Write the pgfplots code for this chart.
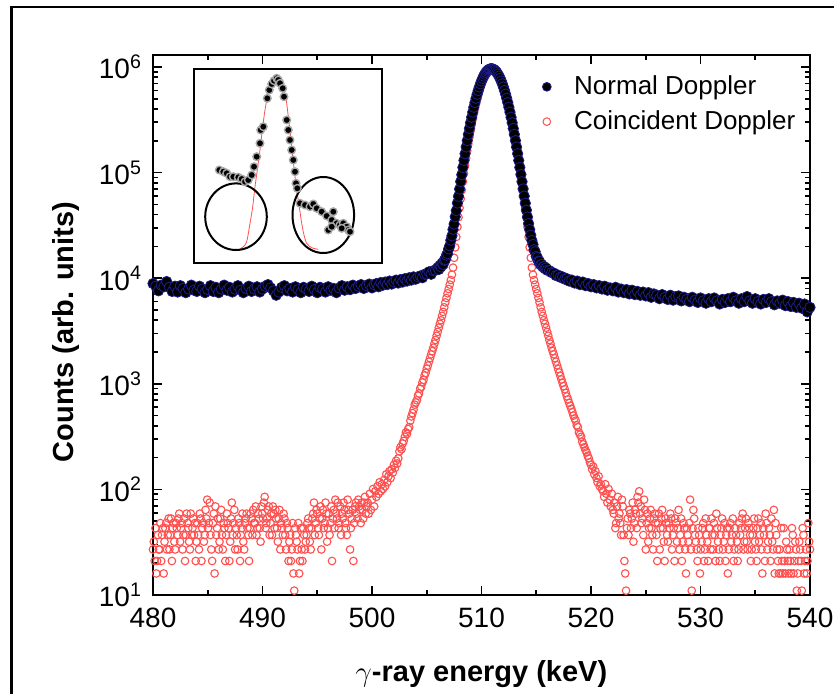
\documentclass[border=0pt]{standalone}
\usepackage{pgfplots}
\pgfplotsset{compat=1.18}
\usepackage{fontspec}
\setmainfont{Liberation Sans}
\definecolor{redpt}{RGB}{255,80,80}
\definecolor{bluedge}{RGB}{30,30,140}

\begin{document}
\begin{tikzpicture}
\useasboundingbox (0,0) rectangle (417pt,346.5pt);
\draw[line width=1.4pt] (5.6pt,-2pt) -- (5.6pt,343pt) -- (420pt,343pt);
\begin{axis}[
  at={(76.5pt,49pt)}, anchor=south west,
  width=328.5pt, height=270pt, scale only axis,
  xmin=480, xmax=540, ymode=log, ymin=10, ymax=1.3e6,
  xtick={480,490,500,510,520,530,540},
  xticklabels={480,490,500,510,520,530,540},
  minor x tick num=1,
  ytick={10,100,1000,10000,100000,1000000},
  yticklabels={10\textsuperscript{1},10\textsuperscript{2},10\textsuperscript{3},10\textsuperscript{4},10\textsuperscript{5},10\textsuperscript{6}},
  tick align=inside,
  major tick length=4.5pt, minor tick length=2.5pt,
  every tick/.style={line width=0.8pt, black},
  axis line style={line width=0.9pt},
  tick label style={font=\fontsize{14}{16}\selectfont},
  xticklabel style={yshift=-3pt},
  yticklabel style={xshift=-2pt},
  legend style={draw=none, fill=none, at={(0.583,0.975)}, anchor=north west,
    font=\fontsize{13}{15}\selectfont, row sep=3.5pt, column sep=10pt, nodes={inner sep=1.5pt}},
  legend cell align=left,
]
\addlegendimage{only marks, mark=*, mark size=2.2pt, mark options={fill=black, draw=bluedge, line width=0.4pt}}
\addlegendentry{Normal Doppler}
\addlegendimage{only marks, mark=o, mark size=1.9pt, mark options={draw=redpt, line width=0.5pt}}
\addlegendentry{Coincident Doppler}

% Coincident Doppler (extra channels in the flat regions)
\addplot[only marks, mark=o, mark size=1.9pt, mark options={draw=redpt, line width=0.55pt}, forget plot] table {
x y
480.075 32
480.225 43
480.375 21
480.525 27
480.675 48
480.825 37
480.975 16
481.125 43
481.275 27
481.425 53
481.575 37
481.725 21
481.875 48
482.025 27
482.175 43
482.325 53
482.475 32
482.625 48
482.775 37
482.925 21
483.075 59
483.225 43
483.375 27
483.525 37
483.675 53
483.825 48
483.975 32
484.125 37
484.275 59
484.425 21
484.575 48
484.725 37
484.875 53
485.025 43
485.175 75
485.325 27
485.475 48
485.625 16
485.775 37
485.925 53
486.075 32
486.225 64
486.375 27
486.525 43
486.675 37
486.825 48
486.975 21
487.125 53
487.275 37
487.425 64
487.575 43
487.725 27
487.875 48
488.025 37
488.175 59
488.325 27
488.475 53
488.625 43
488.775 21
488.925 59
489.075 37
489.225 48
489.375 69
489.525 43
489.675 53
489.825 32
489.975 59
490.125 75
490.275 43
490.425 53
490.575 69
490.725 48
490.875 37
491.025 59
491.175 64
491.325 43
491.475 53
491.625 27
491.775 43
491.925 59
492.075 37
492.225 48
492.375 21
492.525 37
492.675 27
492.825 16
492.975 43
493.125 32
493.275 48
493.425 21
493.575 27
493.725 43
493.875 27
494.025 37
494.175 53
494.325 32
494.475 43
494.625 59
494.775 37
494.925 64
495.075 43
495.225 53
495.375 27
495.525 64
495.675 48
495.825 59
495.975 43
496.125 37
496.275 69
496.425 53
496.575 43
496.725 59
496.875 75
497.025 48
497.175 37
497.325 53
497.475 64
497.625 43
497.775 80
497.925 59
498.075 43
498.225 64
498.375 48
498.525 75
498.675 53
498.825 69
498.975 48
499.125 64
499.275 75
499.425 59
522.075 59
522.225 43
522.375 69
522.525 53
522.675 48
522.825 80
522.975 37
523.125 16
523.275 43
523.425 37
523.575 59
523.725 53
523.875 32
524.025 64
524.175 43
524.325 75
524.475 59
524.625 48
524.775 37
524.925 64
525.075 48
525.225 32
525.375 53
525.525 43
525.675 27
525.825 59
525.975 37
526.125 48
526.275 27
526.425 53
526.575 43
526.725 21
526.875 48
527.025 32
527.175 43
527.325 53
527.475 37
527.625 21
527.775 48
527.925 43
528.075 27
528.225 53
528.375 32
528.525 43
528.675 16
528.825 37
528.975 48
529.125 27
529.275 43
529.425 53
529.575 32
529.725 21
529.875 37
530.025 27
530.175 43
530.325 21
530.475 53
530.625 32
530.775 43
530.925 27
531.075 37
531.225 48
531.375 21
531.525 43
531.675 27
531.825 37
531.975 53
532.125 32
532.275 21
532.425 43
532.575 27
532.725 48
532.875 37
533.025 21
533.175 43
533.325 32
533.475 27
533.625 37
533.775 53
533.925 27
534.075 43
534.225 32
534.375 48
534.525 37
534.675 27
534.825 43
534.975 32
535.125 21
535.275 53
535.425 37
535.575 27
535.725 43
535.875 21
536.025 48
536.175 32
536.325 37
536.475 53
536.625 27
536.775 16
536.925 37
537.075 21
537.225 27
537.375 43
537.525 16
537.675 21
537.825 32
537.975 21
538.125 27
538.275 16
538.425 37
538.575 21
538.725 27
538.875 16
539.025 32
539.175 21
539.325 43
539.475 16
539.625 27
539.775 21
539.925 32
};

% Coincident Doppler
\addplot[only marks, mark=o, mark size=1.9pt, mark options={draw=redpt, line width=0.55pt}, forget plot] table {
x y
480.00 27
480.15 21
480.30 16
480.45 37
480.60 27
480.75 21
480.90 43
481.05 32
481.20 48
481.35 37
481.50 27
481.65 53
481.80 43
481.95 32
482.10 48
482.25 37
482.40 59
482.55 43
482.70 27
482.85 53
483.00 37
483.15 48
483.30 32
483.45 59
483.60 43
483.75 37
483.90 21
484.05 48
484.20 27
484.35 53
484.50 43
484.65 32
484.80 64
484.95 80
485.10 48
485.25 37
485.40 21
485.55 59
485.70 69
485.85 43
486.00 27
486.15 53
486.30 37
486.45 48
486.60 21
486.75 59
486.90 43
487.05 32
487.20 75
487.35 48
487.50 27
487.65 37
487.80 53
487.95 21
488.10 43
488.25 32
488.40 48
488.55 59
488.70 37
488.85 43
489.00 53
489.15 64
489.30 48
489.45 37
489.60 59
489.75 43
489.90 69
490.05 53
490.20 85
490.35 48
490.50 64
490.65 37
490.80 59
490.95 69
491.10 43
491.25 53
491.40 32
491.55 64
491.70 48
491.85 37
492.00 53
492.15 27
492.30 43
492.45 32
492.60 21
492.75 48
492.90 11
493.05 37
493.20 27
493.35 16
493.50 43
493.65 21
493.80 37
493.95 32
494.10 48
494.25 43
494.40 27
494.55 53
494.70 75
494.85 48
495.00 59
495.15 37
495.30 69
495.45 53
495.60 43
495.75 75
495.90 32
496.05 59
496.20 48
496.35 21
496.50 64
496.65 80
496.80 53
496.95 43
497.10 69
497.25 59
497.40 75
497.55 48
497.70 37
497.85 64
498.00 27
498.15 53
498.30 21
498.45 69
498.60 59
498.75 80
498.90 64
499.05 75
499.20 53
499.35 85
499.50 69
499.6 75
499.7 59
499.8 91
499.9 64
500.0 80
500.1 101
500.2 69
500.3 96
500.4 85
500.5 107
500.6 91
500.7 117
500.8 96
500.9 112
501.0 101
501.1 123
501.2 107
501.3 139
501.4 117
501.5 133
501.6 149
501.7 128
501.8 155
501.9 144
502.0 171
502.1 160
502.2 187
502.3 176
502.4 197
502.5 229
502.6 251
502.7 240
502.8 272
502.9 288
503.0 315
503.1 347
503.2 336
503.3 373
503.4 389
503.5 448
503.6 491
503.7 528
503.8 571
503.9 635
504.0 667
504.1 699
504.2 773
504.3 811
504.4 901
504.5 939
504.6 1030
504.7 1090
504.8 1200
504.9 1270
505.0 1390
505.1 1490
505.2 1620
505.3 1750
505.4 1900
505.5 2040
505.6 2200
505.7 2400
505.8 2600
505.9 2850
506.0 3100
506.1 3400
506.2 3700
506.3 4000
506.4 4400
506.5 4800
506.6 5300
506.7 5900
506.8 6500
506.9 7200
507.0 7900
507.1 8700
507.2 9600
507.3 10800
507.4 12600
507.5 15600
507.6 19600
507.7 24600
507.8 30600
507.9 37800
508.0 46400
508.1 56500
508.2 68400
508.3 82300
508.4 98300
508.5 116600
508.6 137500
508.7 161000
508.8 187200
508.9 216300
509.0 248200
509.1 282900
509.2 320300
509.3 360200
509.4 402400
509.5 446500
509.6 492100
509.7 538800
509.8 586000
509.9 633000
510.0 679200
510.1 723900
510.2 766400
510.3 806000
510.4 841900
510.5 873600
510.6 900300
510.7 921700
510.8 937300
510.9 946800
511.0 950000
511.1 946800
511.2 937300
511.3 921700
511.4 900300
511.5 873600
511.6 841900
511.7 806000
511.8 766400
511.9 723900
512.0 679200
512.1 633000
512.2 586000
512.3 538800
512.4 492100
512.5 446500
512.6 402400
512.7 360200
512.8 320300
512.9 282900
513.0 248200
513.1 216300
513.2 187200
513.3 161000
513.4 137500
513.5 116600
513.6 98300
513.7 82300
513.8 68400
513.9 56500
514.0 46400
514.1 37800
514.2 30600
514.3 24600
514.4 19600
514.5 15600
514.6 12600
514.7 10800
514.8 9600
514.9 8700
515.0 7900
515.1 7200
515.2 6500
515.3 5900
515.4 5300
515.5 4800
515.6 4400
515.7 4000
515.8 3700
515.9 3400
516.0 3100
516.1 2850
516.2 2600
516.3 2400
516.4 2200
516.5 2040
516.6 1900
516.7 1750
516.8 1620
516.9 1500
517.0 1380
517.1 1280
517.2 1190
517.3 1100
517.4 1020
517.5 950
517.6 890
517.7 820
517.8 760
517.9 710
518.0 660
518.1 620
518.2 580
518.3 540
518.4 500
518.5 470
518.6 448
518.7 405
518.8 389
518.9 347
519.0 330
519.1 315
519.2 283
519.3 267
519.4 251
519.5 235
519.6 224
519.7 208
519.8 197
519.9 181
520.0 171
520.1 155
520.2 165
520.3 139
520.4 149
520.5 128
520.6 117
520.7 133
520.8 107
520.9 112
521.0 101
521.1 96
521.2 85
521.3 112
521.4 91
521.5 75
521.6 101
521.7 80
521.8 69
521.9 91
522.00 64
522.15 75
522.30 48
522.45 85
522.60 59
522.75 37
522.90 69
523.05 21
523.20 11
523.35 53
523.50 64
523.65 43
523.80 75
523.95 48
524.10 59
524.25 85
524.40 96
524.55 69
524.70 53
524.85 80
525.00 27
525.15 59
525.30 43
525.45 64
525.60 37
525.75 53
525.90 48
526.05 21
526.20 59
526.35 43
526.50 64
526.65 32
526.80 53
526.95 37
527.10 48
527.25 59
527.40 27
527.55 43
527.70 53
527.85 32
528.00 64
528.15 37
528.30 21
528.45 48
528.60 27
528.75 43
528.90 32
529.05 80
529.20 11
529.35 64
529.50 37
529.65 27
529.80 43
529.95 16
530.10 32
530.25 48
530.40 27
530.55 37
530.70 21
530.85 43
531.00 53
531.15 27
531.30 37
531.45 59
531.60 32
531.75 21
531.90 43
532.05 27
532.20 48
532.35 37
532.50 16
532.65 43
532.80 32
532.95 53
533.10 27
533.25 37
533.40 21
533.55 48
533.70 43
533.85 59
534.00 32
534.15 53
534.30 27
534.45 43
534.60 21
534.75 37
534.90 53
535.05 27
535.20 43
535.35 32
535.50 48
535.65 16
535.80 37
535.95 59
536.10 27
536.25 43
536.40 21
536.55 32
536.70 64
536.85 48
537.00 27
537.15 16
537.30 16
537.45 21
537.60 43
537.75 16
537.90 27
538.05 16
538.20 21
538.35 43
538.50 16
538.65 32
538.80 11
538.95 21
539.10 27
539.25 11
539.40 37
539.55 21
539.70 16
539.85 48
540.00 27
};

% Normal Doppler
\addplot[only marks, mark=*, mark size=2.6pt, mark options={fill=black, draw=bluedge, line width=0.4pt}, forget plot] table {
x y
480.00 8900
480.25 8400
480.50 7600
480.75 8600
481.00 8300
481.25 9300
481.50 8200
481.75 7500
482.00 8400
482.25 7400
482.50 8500
482.75 8000
483.00 7300
483.25 7900
483.50 8600
483.75 7700
484.00 7500
484.25 8400
484.50 7900
484.75 7300
485.00 7800
485.25 8500
485.50 7500
485.75 8200
486.00 7300
486.25 7900
486.50 8600
486.75 7700
487.00 8200
487.25 7400
487.50 7900
487.75 8500
488.00 7700
488.25 7300
488.50 8000
488.75 8400
489.00 7500
489.25 7900
489.50 8300
489.75 7400
490.00 7900
490.25 8400
490.50 8700
490.75 8100
491.00 7600
491.25 6900
491.50 7400
491.75 8200
492.00 8500
492.25 7600
492.50 8000
492.75 7400
493.00 8300
493.25 7800
493.50 7300
493.75 8200
494.00 7900
494.25 7500
494.50 8400
494.75 7800
495.00 7300
495.25 8200
495.50 7900
495.75 7400
496.00 8300
496.25 7700
496.50 8000
496.75 7300
497.00 8100
497.25 8500
497.50 7700
497.75 8300
498.00 7800
498.25 8600
498.50 8000
498.75 8400
499.00 8700
499.25 8000
499.50 8500
499.75 8800
500.0 8100
500.2 8700
500.4 8900
500.6 8300
500.8 9100
501.0 8600
501.2 9200
501.4 8700
501.6 9400
501.8 8800
502.0 9200
502.2 9600
502.4 9000
502.6 9700
502.8 9200
503.0 9900
503.2 9400
503.4 10100
503.6 9600
503.8 10300
504.0 9800
504.2 10300
504.4 10500
504.6 10100
504.8 10900
505.0 11000
505.2 11500
505.4 10900
505.6 11800
505.8 11900
506.0 12600
506.1 12100
506.2 13200
506.3 12800
506.4 13900
506.5 13500
506.6 14800
506.7 15000
506.8 16500
506.9 17100
507.0 19000
507.1 20300
507.2 22900
507.3 25200
507.4 29000
507.5 32600
507.6 38200
507.7 43700
507.8 51500
507.9 59600
508.0 69800
508.1 82300
508.2 95500
508.3 112000
508.4 130500
508.5 151000
508.6 175000
508.7 201000
508.8 230200
508.9 262100
509.0 296900
509.1 334300
509.2 374200
509.3 416400
509.4 460500
509.5 506100
509.6 552800
509.7 600000
509.8 647000
509.9 693200
510.0 737900
510.1 780400
510.2 820000
510.3 855900
510.4 887600
510.5 914300
510.6 935700
510.7 951300
510.8 960800
510.9 964000
511.0 960800
511.1 951300
511.2 935700
511.3 914300
511.4 887600
511.5 855900
511.6 820000
511.7 780400
511.8 737900
511.9 693200
512.0 647000
512.1 600000
512.2 552800
512.3 506100
512.4 460500
512.5 416400
512.6 374200
512.7 334300
512.8 296900
512.9 262100
513.0 230300
513.1 201150
513.2 174900
513.3 151350
513.4 130400
513.5 112050
513.6 96000
513.7 82050
513.8 70100
513.9 59950
514.0 51300
514.1 44050
514.2 38000
514.3 32950
514.4 28900
514.5 25550
514.6 22800
514.7 20900
514.8 18600
514.9 17800
515.0 16100
515.1 15700
515.2 14500
515.3 14400
515.4 13400
515.5 13500
515.6 12800
515.7 12900
515.8 12300
515.9 12500
516.0 11900
516.2 11800
516.4 11300
516.6 11200
516.8 10600
517.0 10700
517.2 10200
517.4 10300
517.6 9800
517.8 9900
518.0 9400
518.25 9600
518.50 9000
518.75 9400
519.00 8700
519.25 9200
519.50 8500
519.75 8900
520.00 8300
520.25 8700
520.50 8100
520.75 8500
521.00 7900
521.25 8400
521.50 7700
521.75 8100
522.00 7600
522.25 8200
522.50 7400
522.75 7900
523.00 7300
523.25 7800
523.50 7100
523.75 7700
524.00 7000
524.25 7500
524.50 6900
524.75 7400
525.00 6800
525.25 7300
525.50 6600
525.75 7100
526.00 6900
526.25 6400
526.50 7000
526.75 6600
527.00 6300
527.25 6900
527.50 6200
527.75 6700
528.00 6800
528.25 6100
528.50 6600
528.75 6300
529.00 6000
529.25 6600
529.50 6200
529.75 5900
530.00 6500
530.25 6100
530.50 5800
530.75 6400
531.00 6000
531.25 6500
531.50 6100
531.75 5700
532.00 6300
532.25 5900
532.50 6400
532.75 6000
533.00 6600
533.25 6100
533.50 5800
533.75 6400
534.00 6000
534.25 6700
534.50 6100
534.75 5800
535.00 6400
535.25 6000
535.50 5700
535.75 6300
536.00 5900
536.25 6400
536.50 6000
536.75 5600
537.00 6100
537.25 5800
537.50 6200
537.75 5500
538.00 6000
538.25 5400
538.50 5900
538.75 5300
539.00 5800
539.25 5200
539.50 5700
539.75 4800
540.00 5300
};
\end{axis}

% inset
\begin{axis}[
  at={(97pt,215pt)}, anchor=south west,
  width=94pt, height=97pt, scale only axis,
  xmin=0, xmax=188, ymin=0, ymax=194,
  xtick=\empty, ytick=\empty,
  axis line style={line width=1pt},
  axis background/.style={fill=white},
]
\addplot[color=redpt, line width=0.4pt, smooth] table {
x y
44.3 13
49.3 16.3
52.7 21.3
56 39.7
58.7 56.3
61 76.3
63.3 93
66 113
68.7 136.3
71 153
73.3 166.3
76 178
79.3 184.7
82.7 187
86 183
89.3 174.7
92 164.7
94.3 146.3
96.7 126.3
98.7 106.3
101 86.3
102.7 73
104.3 63
106 51.3
107.7 39.7
110 28
112.7 19.7
117.7 15.3
124.3 13.7
};
\addplot[only marks, mark=*, mark size=1.9pt, mark options={fill=black, draw=gray!70, line width=0.7pt}] table {
x y
25.3 93
29.3 91.3
32.7 89.7
36 86.3
39.3 86.3
44.3 85.7
47.7 84
51 81.3
54.3 83
57.7 88
60 96.3
62.7 106.3
66 119.7
66.7 133
69.3 136.3
73.3 164.7
75.3 173
77.7 179
80 182.3
82.7 184.7
84.3 183
86 179.7
88.7 174.7
90 166.3
92.7 143
94.3 133
96 123
97.7 113
99.3 103
101 91.3
102 79.7
103.3 74.7
106 59.7
111 58
116 56.3
119.3 59
122.7 54.7
127.7 51.3
132.7 47
137.7 43
139.3 51.3
142.7 39.7
146 38
149.3 39.7
152.7 36.3
154.3 33
134.3 33
137.7 36.3
156 31.3
147.7 34.7
};
\draw[line width=1pt] (axis cs:42,46.3) ellipse [x radius=30.8, y radius=33.3];
\draw[line width=1pt] (axis cs:129.3,48) ellipse [x radius=30.8, y radius=38];
\end{axis}

\node[font=\bfseries\fontsize{14.5}{17}\selectfont] at (240.75pt,9.5pt) {$\gamma$-ray energy (keV)};
\node[font=\bfseries\fontsize{14.5}{17}\selectfont, rotate=90] at (33pt,180.5pt) {Counts (arb. units)};
\end{tikzpicture}
\end{document}
